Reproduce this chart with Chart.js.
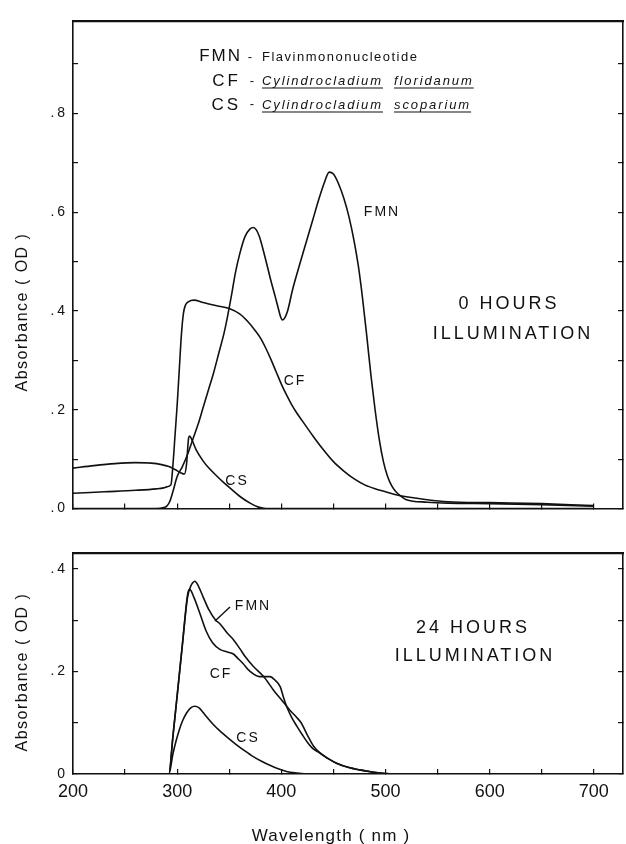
<!DOCTYPE html>
<html><head><meta charset="utf-8">
<script src="https://cdn.jsdelivr.net/npm/chart.js@4.4.1/dist/chart.umd.min.js"></script>
<style>
html,body{margin:0;padding:0;background:#fff;}
#wrap{position:relative;width:626px;height:844px;overflow:hidden;font-family:'Liberation Sans',Arial,sans-serif;color:#111;background:#fff;}
canvas{position:absolute;left:0;}
.t{position:absolute;white-space:nowrap;line-height:1;}
.c{transform:translate(-50%,-50%);}
.l{transform:translate(0,-50%);}
.r{transform:translate(0,-50%);text-align:right;}
.sp{font-style:italic;text-decoration:underline;text-underline-offset:3px;text-decoration-thickness:1.3px;}
.rot{transform:translate(-50%,-50%) rotate(-90deg);}
</style></head><body>
<div id="wrap">
<canvas id="cTop" width="626" height="530" style="top:0"></canvas>
<canvas id="cBot" width="626" height="314" style="top:530px"></canvas>

<div class="t r" style="right:384px;top:55px;font-size:17px;letter-spacing:2px;">FMN</div>
<div class="t c" style="left:250px;top:56px;font-size:13px;">-</div>
<div class="t l" style="left:262px;top:56px;font-size:13px;letter-spacing:1.5px;">Flavinmononucleotide</div>

<div class="t r" style="right:385px;top:80px;font-size:17px;letter-spacing:3px;">CF</div>
<div class="t c" style="left:252px;top:80px;font-size:13px;">-</div>
<div class="t l" style="left:262px;top:80px;font-size:13px;letter-spacing:1.9px;"><span class="sp">Cylindrocladium</span>&nbsp;&nbsp;<span class="sp">floridanum</span></div>

<div class="t r" style="right:385px;top:104px;font-size:17px;letter-spacing:3px;">CS</div>
<div class="t c" style="left:252px;top:103px;font-size:13px;">-</div>
<div class="t l" style="left:262px;top:104px;font-size:13px;letter-spacing:1.9px;"><span class="sp">Cylindrocladium</span>&nbsp;&nbsp;<span class="sp">scoparium</span></div>

<div class="t c" style="left:382px;top:211px;font-size:14px;letter-spacing:2px;">FMN</div>
<div class="t c" style="left:295px;top:380px;font-size:14px;letter-spacing:2px;">CF</div>
<div class="t c" style="left:237px;top:480px;font-size:14px;letter-spacing:2px;">CS</div>
<div class="t c" style="left:509px;top:303px;font-size:18px;letter-spacing:3px;">0 HOURS</div>
<div class="t c" style="left:513px;top:333px;font-size:18px;letter-spacing:3px;">ILLUMINATION</div>

<div class="t c" style="left:253px;top:605px;font-size:14px;letter-spacing:2px;">FMN</div>
<div class="t c" style="left:221px;top:673px;font-size:14px;letter-spacing:2px;">CF</div>
<div class="t c" style="left:248px;top:737px;font-size:14px;letter-spacing:2px;">CS</div>
<div class="t c" style="left:473px;top:627px;font-size:18px;letter-spacing:3px;">24 HOURS</div>
<div class="t c" style="left:475px;top:655px;font-size:18px;letter-spacing:3px;">ILLUMINATION</div>
<svg style="position:absolute;left:0;top:0;" width="626" height="844"><line x1="230" y1="607" x2="215" y2="621" stroke="#111" stroke-width="1.4"/></svg>

<div class="t rot" style="left:22px;top:312px;font-size:16px;letter-spacing:1.5px;">Absorbance ( OD )</div>
<div class="t rot" style="left:22px;top:672px;font-size:16px;letter-spacing:1.5px;">Absorbance ( OD )</div>
<div class="t c" style="left:331px;top:835px;font-size:17px;letter-spacing:1.2px;">Wavelength ( nm )</div>
</div>
<script>
// ---- 0 hours illumination ----
const topFmnX = [200,280,287,290,293,296,300,305,310,315,320,325,330,335,340,345,348,352,356,360,365,370,373,376,379,382,386,390,394,397,399,401,403,406,411,418,424,430,436,441,446,450,455,460,465,470,474,478,482,486,490,494,498,502,506,510,515,520,540,560,600,650,700];
const topFmnY = [0,0,0.002,0.005,0.015,0.035,0.065,0.085,0.11,0.14,0.17,0.205,0.24,0.275,0.315,0.355,0.385,0.43,0.478,0.515,0.55,0.566,0.569,0.564,0.55,0.528,0.495,0.461,0.43,0.406,0.39,0.382,0.385,0.40,0.445,0.497,0.54,0.583,0.626,0.658,0.681,0.677,0.657,0.628,0.59,0.54,0.49,0.425,0.35,0.27,0.20,0.14,0.095,0.065,0.046,0.034,0.025,0.018,0.013,0.011,0.01,0.008,0.005];

const topCfX = [200,230,260,280,287,290,294,296,298,300,302,304,306,308,311,316,325,337,350,360,368,375,380,385,390,395,400,405,410,415,420,430,440,450,460,470,480,490,500,510,520,540,560,600,650,700];
const topCfY = [0.031,0.034,0.037,0.040,0.042,0.044,0.048,0.09,0.15,0.21,0.28,0.35,0.395,0.412,0.419,0.422,0.417,0.411,0.405,0.394,0.378,0.36,0.345,0.325,0.302,0.277,0.252,0.23,0.21,0.193,0.178,0.148,0.12,0.095,0.076,0.06,0.048,0.04,0.034,0.028,0.024,0.018,0.014,0.012,0.01,0.006];

const topCsX = [200,220,240,260,275,285,292,298,303,307,309,311,312,314,318,325,330,338,345,350,360,370,378,385,700];
const topCsY = [0.082,0.087,0.091,0.093,0.092,0.089,0.085,0.079,0.073,0.070,0.09,0.143,0.147,0.14,0.12,0.096,0.083,0.066,0.052,0.043,0.025,0.011,0.003,0,0];

// ---- 24 hours illumination ----
const botFmnX = [200,292,296,300,305,310,313,315,317,320,325,330,337,341,348,354,360,366,373,383,392,402,408,414,419,425,431,437,445,453,464,475,487,500,520,700];
const botFmnY = [0,0,0.075,0.153,0.252,0.345,0.366,0.373,0.376,0.368,0.345,0.322,0.30,0.293,0.275,0.262,0.245,0.227,0.21,0.19,0.165,0.14,0.125,0.112,0.1,0.076,0.054,0.041,0.03,0.021,0.013,0.008,0.004,0.001,0,0];

const botCfX = [200,292,296,300,305,310,312,316,322,328,334,341,348,354,358,363,370,379,389,394,399,402,405,410,415,420,425,430,437,445,453,464,475,487,500,520,700];
const botCfY = [0,0,0.075,0.153,0.252,0.35,0.36,0.345,0.312,0.278,0.256,0.243,0.238,0.234,0.226,0.216,0.2,0.19,0.19,0.183,0.17,0.15,0.132,0.11,0.093,0.077,0.062,0.05,0.041,0.03,0.021,0.013,0.008,0.004,0.001,0,0];

const botCsX = [200,292,296,299,302,305,309,313,317,321,328,334,341,349,357,365,373,381,389,397,405,415,425,700];
const botCsY = [0,0,0.04,0.065,0.086,0.103,0.119,0.129,0.132,0.129,0.112,0.098,0.084,0.07,0.057,0.045,0.034,0.025,0.017,0.01,0.005,0.002,0,0];

const seriesNames = ['FMN','CF','CS'];
const xTickLabels = [200,300,400,500,600,700];

const INK = '#111';
Chart.defaults.font.family = "'Liberation Sans', Arial, sans-serif";
Chart.defaults.color = INK;

function pts(xs, ys){ return xs.map((x,i)=>({x:x, y:ys[i]})); }
function ds(label, xs, ys){
  return {label, data: pts(xs, ys), borderColor: INK, borderWidth: 1.6, pointRadius: 0,
          fill: false, cubicInterpolationMode: 'monotone', tension: 0.4};
}

function scales(yMax, yLabelFn, showX, topH, botH){
  return {
    x: {type:'linear', position:'bottom', min:200, max:728,
        ticks:{display:showX, stepSize:50, includeBounds:false, autoSkip:false, maxRotation:0,
               padding:12, font:{size:18}, color:INK,
               callback:v => xTickLabels.includes(Math.round(v)) ? String(Math.round(v)) : ''},
        grid:{drawOnChartArea:false, drawTicks:true, tickLength:-5, color:INK, lineWidth:1.2},
        border:{display:true, color:INK, width:1.6},
        afterFit: s => { s.height = botH; }},
    x2: {type:'linear', position:'top', min:200, max:728,
        ticks:{display:false},
        grid:{drawOnChartArea:false, drawTicks:false},
        border:{display:true, color:INK, width:2.2},
        afterFit: s => { s.height = topH; }},
    y: {type:'linear', position:'left', min:0, max:yMax,
        ticks:{stepSize:0.1, includeBounds:false, autoSkip:false, padding:13, font:{size:14}, color:INK,
               callback: yLabelFn},
        grid:{drawOnChartArea:false, drawTicks:true, tickLength:-5, color:INK, lineWidth:1.2},
        border:{display:true, color:INK, width:1.6},
        afterFit: s => { s.width = 73; }},
    y2: {type:'linear', position:'right', min:0, max:yMax,
        ticks:{display:false, stepSize:0.1, includeBounds:false, autoSkip:false},
        grid:{drawOnChartArea:false, drawTicks:true, tickLength:-5, color:INK, lineWidth:1.2},
        border:{display:true, color:INK, width:1.6},
        afterFit: s => { s.width = 3; }}
  };
}

const common = {responsive:false, animation:false, devicePixelRatio:1,
  layout:{padding:0},
  plugins:{legend:{display:false}, tooltip:{enabled:false}}};

new Chart(document.getElementById('cTop'), {
  type:'line',
  data:{datasets:[ds(seriesNames[0], topFmnX, topFmnY), ds(seriesNames[1], topCfX, topCfY), ds(seriesNames[2], topCsX, topCsY)]},
  options:Object.assign({}, common, {
    scales: scales(0.986, v => { const k = Math.round(v*10); return k%2===0 ? '.\u2009'+k : ''; }, false, 13, 13)
  })
});

new Chart(document.getElementById('cBot'), {
  type:'line',
  data:{datasets:[ds(seriesNames[0], botFmnX, botFmnY), ds(seriesNames[1], botCfX, botCfY), ds(seriesNames[2], botCsX, botCsY)]},
  options:Object.assign({}, common, {
    scales: scales(0.431, v => { const k = Math.round(v*10); return k===0 ? '0' : (k%2===0 ? '.\u2009'+k : ''); }, true, 23, 70)
  })
});
</script>
</body></html>
